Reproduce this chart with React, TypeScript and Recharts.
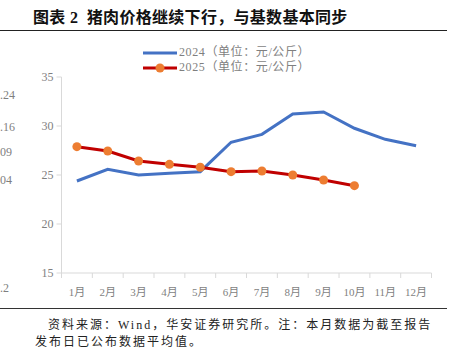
import { LineChart, Line, XAxis, YAxis } from "recharts";

// 猪肉价格（元/公斤）
const months = ["1月", "2月", "3月", "4月", "5月", "6月", "7月", "8月", "9月", "10月", "11月", "12月"];
const price2024 = [24.39, 25.58, 25.0, 25.17, 25.34, 28.34, 29.15, 31.22, 31.43, 29.77, 28.64, 27.98];
const price2025 = [27.89, 27.45, 26.43, 26.09, 25.79, 25.34, 25.41, 25.0, 24.49, 23.91];
const yTicks = [15, 20, 25, 30, 35];
// visible ends of the neighbouring chart's labels at the left edge
const cutLabels = [
    { text: ".24", top: 95 },
    { text: ".16", top: 127 },
    { text: "09", top: 152 },
    { text: "04", top: 180 },
    { text: ".2", top: 288 },
];

const data = months.map((m, i) => ({
    month: m,
    y2024: price2024[i],
    y2025: i < price2025.length ? price2025[i] : null,
}));

const SERIF = "'Liberation Serif', 'Noto Sans CJK SC', serif";
const BLUE = "#4472C4";
const RED = "#C00000";
const ORANGE = "#ED7D31";
const AXIS = "#d9d9d9";
const LABEL = "#7f7f7f";
const HALF_BAND = 15.4;

function MonthTick({ x, y, payload, index }: any) {
    const last = index === months.length - 1;
    return (
        <g>
            <line x1={x - HALF_BAND} x2={x - HALF_BAND} y1={y} y2={y + 5} stroke={AXIS} />
            {last && <line x1={x + HALF_BAND} x2={x + HALF_BAND} y1={y} y2={y + 5} stroke={AXIS} />}
            <text x={x} y={y + 23} textAnchor="middle" fontSize={11} fill={LABEL} fontFamily={SERIF}>
                {payload.value}
            </text>
        </g>
    );
}

const footStyle = {
    position: "absolute" as const,
    fontSize: 12,
    lineHeight: "15px",
    letterSpacing: 2,
    color: "#222",
    whiteSpace: "nowrap" as const,
};

export default function App() {
    return (
        <div
            style={{
                position: "absolute",
                left: 0,
                top: 0,
                width: 451,
                height: 352,
                overflow: "hidden",
                background: "#fff",
                fontFamily: SERIF,
            }}
        >
            <div
                style={{
                    position: "absolute",
                    left: 33,
                    top: 7,
                    fontSize: 16,
                    fontWeight: 700,
                    letterSpacing: 0.3,
                    color: "#111",
                    whiteSpace: "nowrap",
                    lineHeight: "22px",
                }}
            >
                图表&nbsp;2&nbsp;&nbsp;猪肉价格继续下行，与基数基本同步
            </div>
            <div style={{ position: "absolute", left: 0, top: 30, width: 447, height: 0, borderTop: "1.5px solid #222" }} />

            {cutLabels.map((l) => (
                <div
                    key={l.text}
                    style={{
                        position: "absolute",
                        left: 0,
                        top: l.top - 8,
                        fontSize: 12,
                        lineHeight: "16px",
                        color: LABEL,
                        whiteSpace: "nowrap",
                    }}
                >
                    {l.text}
                </div>
            ))}

            <LineChart
                width={451}
                height={352}
                data={data}
                margin={{ top: 77, right: 19.5, left: 0, bottom: 51 }}
                style={{ position: "absolute", left: 0, top: 0 }}
            >
                <XAxis
                    dataKey="month"
                    height={28}
                    padding={{ left: HALF_BAND, right: HALF_BAND }}
                    axisLine={{ stroke: AXIS }}
                    tickLine={false}
                    tickSize={0}
                    tickMargin={0}
                    interval={0}
                    tick={<MonthTick />}
                />
                <YAxis
                    width={61.5}
                    domain={[15, 35]}
                    ticks={yTicks}
                    interval={0}
                    axisLine={{ stroke: AXIS }}
                    tickLine={{ stroke: AXIS }}
                    tickSize={5}
                    tickMargin={3}
                    tick={{ fontSize: 12, fill: LABEL, fontFamily: SERIF }}
                />
                <Line
                    type="linear"
                    dataKey="y2024"
                    stroke={BLUE}
                    strokeWidth={3}
                    dot={false}
                    activeDot={false}
                    isAnimationActive={false}
                />
                <Line
                    type="linear"
                    dataKey="y2025"
                    stroke={RED}
                    strokeWidth={3}
                    dot={{ r: 4.5, fill: ORANGE, stroke: ORANGE, strokeWidth: 0 }}
                    activeDot={false}
                    connectNulls={false}
                    isAnimationActive={false}
                />
            </LineChart>

            {/* legend */}
            <svg style={{ position: "absolute", left: 140, top: 44 }} width={42} height={32}>
                <line x1={3} x2={37} y1={9} y2={9} stroke={BLUE} strokeWidth={3} />
                <line x1={3} x2={37} y1={24} y2={24} stroke={RED} strokeWidth={3} />
                <circle cx={20} cy={24} r={4.5} fill={ORANGE} />
            </svg>
            <div style={{ position: "absolute", left: 179, top: 45, fontSize: 12, letterSpacing: 0.6, lineHeight: "15px", color: LABEL, whiteSpace: "nowrap" }}>
                2024（单位：元/公斤）
            </div>
            <div style={{ position: "absolute", left: 179, top: 60, fontSize: 12, letterSpacing: 0.6, lineHeight: "15px", color: LABEL, whiteSpace: "nowrap" }}>
                2025（单位：元/公斤）
            </div>

            {/* footer */}
            <div style={{ position: "absolute", left: 0, top: 308, width: 447, height: 0, borderTop: "1.5px solid #333" }} />
            <div style={{ ...footStyle, left: 48, top: 318 }}>资料来源：Wind，华安证券研究所。注：本月数据为截至报告</div>
            <div style={{ ...footStyle, left: 35, top: 335 }}>发布日已公布数据平均值。</div>
        </div>
    );
}
